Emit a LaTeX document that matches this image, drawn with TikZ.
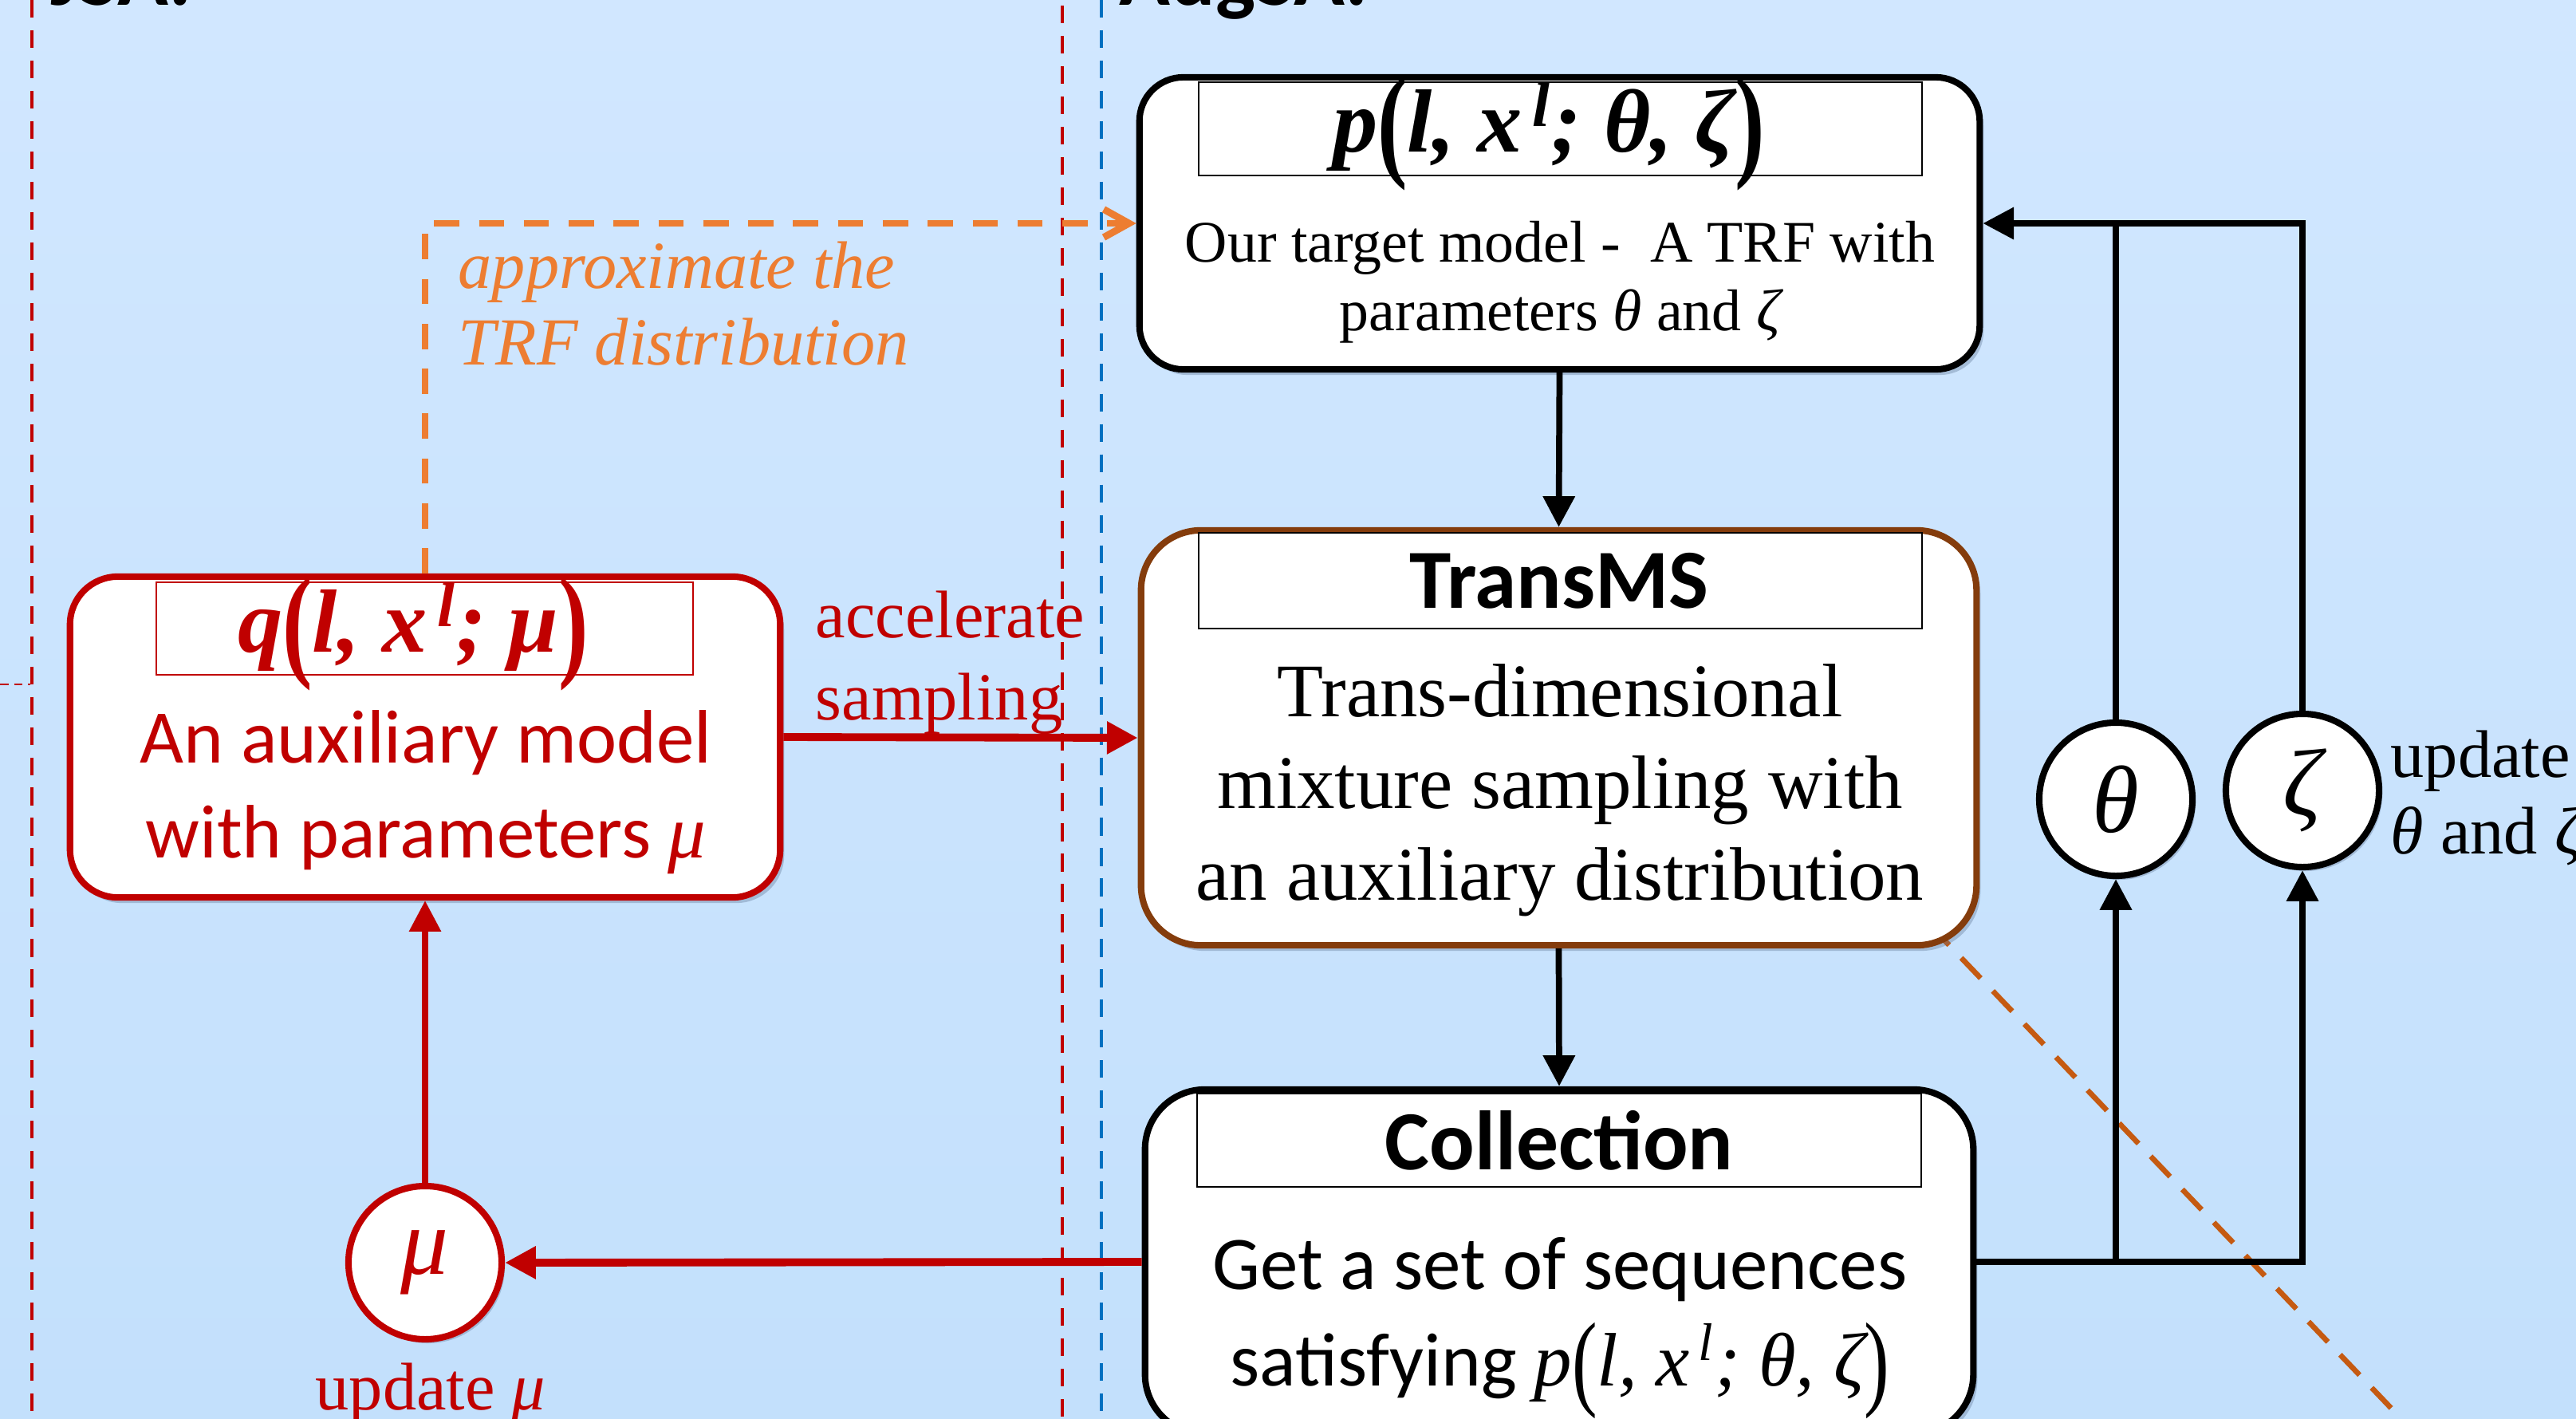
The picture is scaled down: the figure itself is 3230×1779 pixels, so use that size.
\documentclass[tikz,border=0pt]{standalone}
\usepackage{graphicx}
\usepackage{fontspec}
\setmainfont{Liberation Serif}
\newfontfamily\carlito{Carlito}
\usetikzlibrary{arrows.meta,shadows,calc}
\definecolor{bgtop}{HTML}{D1E7FF}
\definecolor{bgbot}{HTML}{C3E0FC}
\definecolor{myred}{HTML}{C00000}
\definecolor{myorange}{HTML}{ED7D31}
\definecolor{mybrown}{HTML}{843C0C}
\definecolor{mydiag}{HTML}{C55A11}
\definecolor{myblue}{HTML}{0070C0}
\definecolor{shcol}{HTML}{5A7090}
\newcommand\lpar{\raisebox{-0.14em}{\scalebox{1}[1.4]{\upshape(}}}
\newcommand\rpar{\raisebox{-0.14em}{\scalebox{1}[1.4]{\upshape)}}}
\newcommand\gr[1]{{\rmfamily\itshape #1}}
\newcommand\pexpr{{\rmfamily\itshape p\lpar l, x\textsuperscript{\,l}; θ, ζ\rpar}}
\newcommand\qexpr{{\rmfamily\itshape q\lpar l, x\textsuperscript{\,l}; μ\rpar}}
\begin{document}
\begin{tikzpicture}[x=0.01cm,y=-0.01cm,
  box/.style={draw, line width=2.3pt, fill=white, rounded corners=0.55cm,
    drop shadow={shadow xshift=0.05cm, shadow yshift=-0.07cm, opacity=0.35, fill=shcol}},
  hdr/.style={draw, line width=0.6pt, inner sep=0pt},
  circ/.style={circle, draw, line width=2.3pt, fill=white, minimum size=1.92cm, inner sep=0pt,
    drop shadow={shadow xshift=0.04cm, shadow yshift=-0.05cm, opacity=0.35, fill=shcol}},
  blk/.style={line width=2.2pt, -{Triangle[length=11pt,width=11pt]}},
  redarr/.style={myred, line width=2.8pt, -{Triangle[length=11pt,width=11pt]}},
  sepline/.style={line width=0.9pt, dash pattern=on 6.3pt off 4.5pt},
  txt/.style={inner sep=0pt}
]
\useasboundingbox (0,0) rectangle (3230,1779);
\shade[top color=bgtop, bottom color=bgbot] (0,0) rectangle (3230,1779);

% separators
\draw[sepline, myred] (40,0) -- (40,1779);
\draw[sepline, myred] (1332,7) -- (1332,1779);
\draw[sepline, myblue] (1381,0) -- (1381,1779);
\draw[myred, line width=0.6pt, dash pattern=on 3pt off 2pt] (0,858) -- (38,858);

% titles (cut off at the top)
\node[txt, anchor=base west, font=\carlito\bfseries\fontsize{30}{36}\selectfont] (jsa) at (63,7) {JSA:};
\node[txt, anchor=base west, font=\carlito\bfseries\fontsize{30}{36}\selectfont] (aug) at (1403,7) {AugSA:};

% diagonal dashed line (behind boxes)
\draw[mydiag, line width=1.9pt, dash pattern=on 10pt off 6.3pt] (2380,1118) -- (3100,1872);

% boxes
\node[box, minimum width=10.53cm, minimum height=3.66cm] (p) at (1955.5,280) {};
\node[box, draw=mybrown, rounded corners=0.75cm, minimum width=10.47cm, minimum height=5.2cm] (t) at (1954.5,925) {};
\node[box, rounded corners=0.75cm, minimum width=10.38cm, minimum height=4.32cm] (c) at (1955,1582) {};
\node[box, draw=myred, rounded corners=0.6cm, minimum width=8.9cm, minimum height=4.02cm] (q) at (533,924) {};

% header rectangles
\node[hdr, minimum width=9.07cm, minimum height=1.17cm] (ph) at (1956.5,161.5) {};
\node[hdr, minimum width=9.07cm, minimum height=1.2cm] (th) at (1956.5,728) {};
\node[hdr, minimum width=9.08cm, minimum height=1.17cm] (ch) at (1955,1429.5) {};
\node[hdr, draw=myred, minimum width=6.73cm, minimum height=1.16cm] (qh) at (532.5,788) {};

% header texts
\node[txt, font=\bfseries\fontsize{32}{38}\selectfont] (pht) at (1942,168) {\pexpr};
\node[txt, font=\carlito\bfseries\fontsize{30}{36}\selectfont] (tht) at (1955,728) {TransMS};
\node[txt, font=\carlito\bfseries\fontsize{30}{36}\selectfont] (cht) at (1955,1430) {Collection};
\node[txt, text=myred, font=\bfseries\fontsize{32}{38}\selectfont] (qht) at (518,795) {\qexpr};

% body texts
\node[txt, align=center, font=\fontsize{21}{24.5}\selectfont] (pb) at (1956,354) {Our target model - ~A TRF with\\parameters \gr{θ} and \gr{ζ}};
\node[txt, align=center, font=\fontsize{27}{32.7}\selectfont] (tb) at (1956,991) {Trans-dimensional\\mixture sampling with\\an auxiliary distribution};
\node[txt, align=center, font=\carlito\fontsize{27}{34.4}\selectfont] (cb) at (1956,1665) {Get a set of sequences\\satisfying \pexpr};
\node[txt, align=center, text=myred, font=\carlito\fontsize{27}{34}\selectfont] (qb) at (534,993) {An auxiliary model\\with parameters \gr{μ}};

% circles
\node[circ, draw=myred, text=myred, font=\fontsize{34}{40}\selectfont] (mu) at (533,1583) {\gr{μ}};
\node[circ, font=\fontsize{34}{40}\selectfont] (thc) at (2653,1002) {\gr{θ}};
\node[circ, font=\fontsize{34}{40}\selectfont] (zec) at (2887,991) {\gr{ζ}};

% labels
\node[txt, text=myred, font=\fontsize{24}{28}\selectfont] (mul) at (540,1747) {update \gr{μ}};
\node[txt, anchor=west, align=left, font=\fontsize{24}{27.3}\selectfont] (upd) at (2997,1000) {update\\\gr{θ} and \gr{ζ}};
\node[txt, anchor=west, align=left, text=myred, font=\fontsize{24}{29.3}\selectfont] (acc) at (1022,831) {accelerate\\sampling};
\node[txt, anchor=west, align=left, text=myorange, font=\itshape\fontsize{24}{27.3}\selectfont] (apx) at (574,381) {approximate the\\TRF distribution};

% connectors
\draw[blk] (p.south) -- (t.north);
\draw[blk] (t.south) -- (c.north);
\draw[blk] (c.east) -| (zec.south);
\draw[blk] (c.east -| thc.south) -- (thc.south);
\draw[blk] (thc.north) |- (p.east);
\draw[line width=2.2pt] (zec.north) |- (p.east -| thc.north);
\draw[redarr] (q.east) -- (t.west);
\draw[redarr] (c.west) -- (mu.east);
\draw[redarr, line width=2pt] (mu.north) -- (q.south);
\draw[myorange, line width=2.5pt, dash pattern=on 9pt off 7pt, -{Straight Barb[length=9pt,width=10pt]}] (q.north) |- (p.west);
\end{tikzpicture}
\end{document}
